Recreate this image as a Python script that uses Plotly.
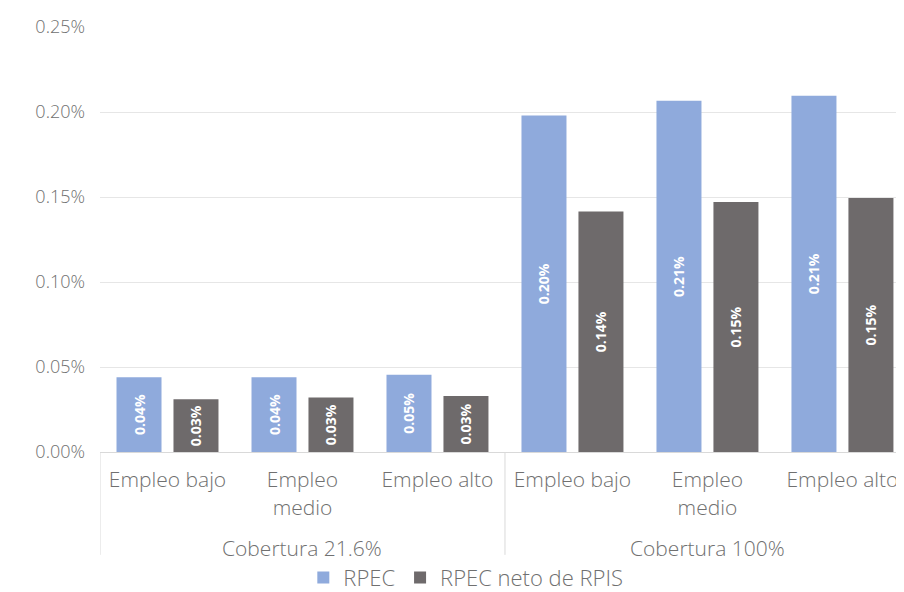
import plotly.graph_objects as go

groups = ["Cobertura 21.6%", "Cobertura 100%"]
subs = ["Empleo bajo", "Empleo<br>medio", "Empleo alto"]
rpec = [0.044, 0.044, 0.0455, 0.198, 0.2066, 0.2096]
rpec_neto = [0.031, 0.032, 0.033, 0.1414, 0.147, 0.1494]
series_names = ["RPEC", "RPEC neto de RPIS"]
colors = ["#8FAADC", "#6E6A6B"]

FONT = "Open Sans"
TXT = "#707070"
LINE = "#d9d9d9"

n_sub = len(subs)
xs = list(range(len(groups) * n_sub))
ticktext = subs * len(groups)

fig = go.Figure()
for name, vals, col in zip(series_names, [rpec, rpec_neto], colors):
    fig.add_trace(go.Bar(
        x=xs, y=vals, name=name, marker=dict(color=col, line=dict(width=0)),
        texttemplate="%{y:.2f}%", textposition="inside", insidetextanchor="middle",
        textangle=-90, textfont=dict(color="white", size=14, family=FONT, weight="bold"),
        hoverinfo="skip",
    ))

# group labels and dividers below the axis
for gi, g in enumerate(groups):
    fig.add_annotation(x=gi * n_sub + (n_sub - 1) / 2, xref="x", y=-0.226, yref="paper",
                       text=g, showarrow=False, yanchor="middle",
                       font=dict(size=21, color=TXT, family=FONT, weight=300))
for gi in range(len(groups) + 1):
    fig.add_shape(type="line", xref="x", yref="paper", x0=gi * n_sub - 0.5, x1=gi * n_sub - 0.5,
                  y0=0, y1=-0.242, line=dict(color=LINE, width=1))

fig.update_layout(
    width=896, height=584,
    margin=dict(l=92, r=0, t=19, b=140, autoexpand=False),
    paper_bgcolor="white", plot_bgcolor="white",
    barmode="group", bargap=0.156, bargroupgap=0.21,
    font=dict(family=FONT, color=TXT, size=18, weight=300),
    showlegend=True,
    legend=dict(orientation="h", x=0.455, xanchor="center", y=-0.296, yanchor="middle",
                font=dict(size=22, color=TXT, weight=300), itemwidth=30, traceorder="normal"),
    xaxis=dict(
        range=[-0.5, 5.456], tickmode="array", tickvals=xs, ticktext=ticktext,
        showline=True, linecolor=LINE, linewidth=1, zeroline=False,
        tickfont=dict(size=21, color=TXT, weight=300),
        ticks="", ticklabelstandoff=9, showgrid=False,
    ),
    yaxis=dict(
        range=[0, 0.25], dtick=0.05, tickformat=".2f", ticksuffix="%",
        showgrid=True, gridcolor="#e6e6e6", gridwidth=1, zeroline=False,
        tickfont=dict(size=18, color=TXT, weight=300), ticklabelstandoff=14, showline=False,
    ),
)

fig.write_html("out.html")
